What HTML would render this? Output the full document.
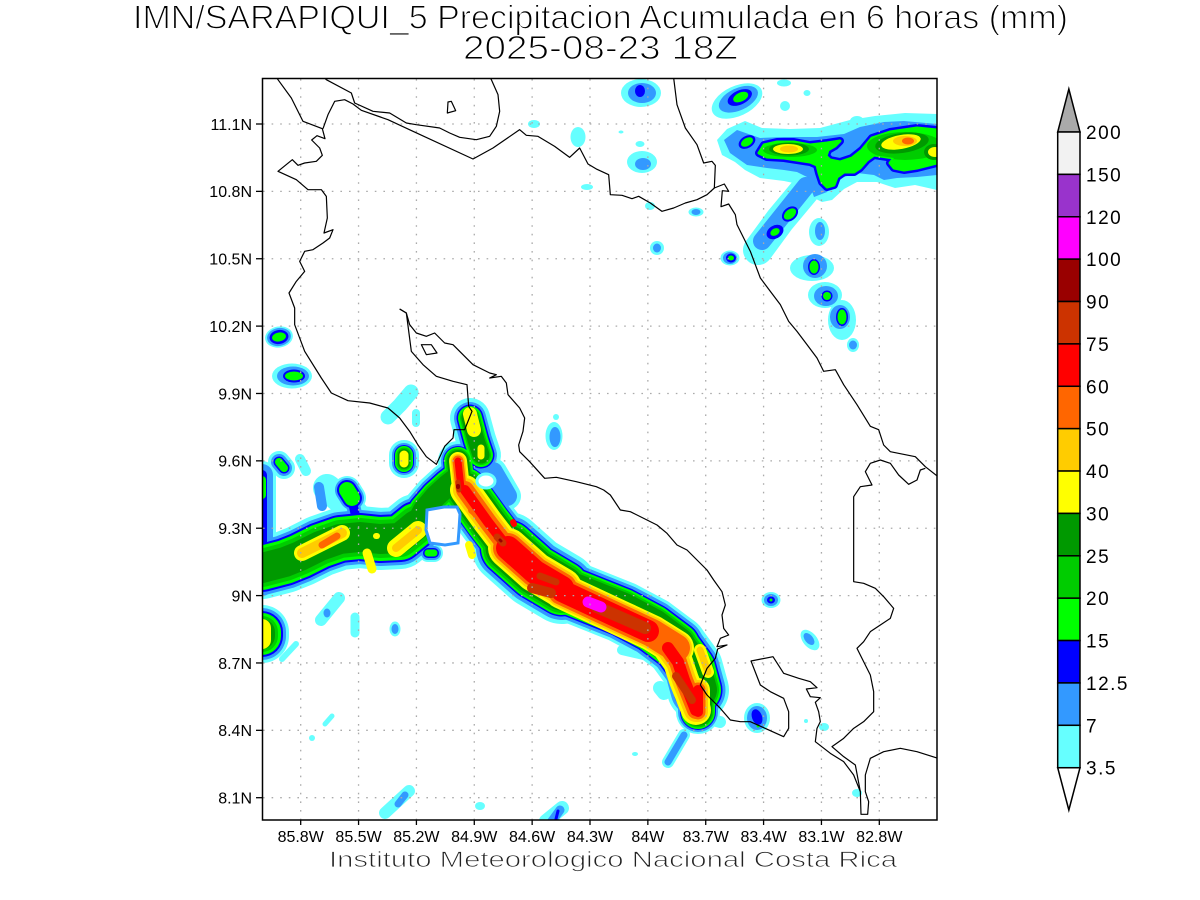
<!DOCTYPE html>
<html><head><meta charset="utf-8"><style>
html,body{margin:0;padding:0;background:#fff;}
svg{display:block;}
</style></head><body>
<svg width="1200" height="900" viewBox="0 0 1200 900" xmlns="http://www.w3.org/2000/svg">
<defs>
<clipPath id="mapclip"><rect x="262.5" y="78.5" width="674.5" height="741.5"/></clipPath>
<path id="sa" d="M465,490 L488,522 L508,548"/>
<path id="sb" d="M508,548 L535,572 L562,588"/>
<path id="sc" d="M562,588 L592,600 L622,612 L652,628 L676,646"/>
<path id="sci" d="M562,591 L592,605 L622,619 L652,633 L676,648"/>
<path id="scr" d="M562,591 L592,605 L622,619 L648,631"/>
<path id="sd" d="M676,646 L692,668 L698,690"/>
<path id="sdi" d="M668,648 L678,662 L684,680 L692,700 L696,710"/>
<path id="se" d="M698,690 L698,712"/>
<path id="pk" d="M458,461 L461,488"/>
<path id="lb1" d="M493,472 L507,496"/>
<path id="wa" d="M262,568 L285,562 L300,556 L320,546 L340,539 L360,537 L380,539 L400,538 L416,525"/>
<path id="wb" d="M416,525 L424,510 L436,496 L448,485 L457,478"/>
<path id="ua" d="M327,488 L345,503 L360,520"/>
<path id="ub" d="M319,487 L322,506"/>
<path id="ug" d="M347,490 L352,498"/>
<path id="ugc" d="M352,500 L356,518"/>
<path id="ls" d="M262,475 L262,585"/>
<path id="lsg" d="M262,556 L262,580"/>
<path id="lsg2" d="M262,480 L262,495"/>
<path id="ll" d="M262,632 L262,636"/>
<path id="lly" d="M262,628 L262,640"/>
<path id="tl" d="M279,462 L284,468"/>
<path id="tl2" d="M300,459 L306,471"/>
<path id="b4" d="M404,455 L404,463"/>
<path id="b5" d="M481,448 L481,456"/>
<path id="b11" d="M470,418 L476,440 L481,455"/>
<path id="b11y" d="M470,414 L474,430"/>
<path id="b6" d="M428,553 L434,553"/>
<path id="tail" d="M684,735 L668,762"/>
<path id="lbA" d="M660,688 L664,693"/>
<path id="lbB" d="M706,718 L720,722"/>
<path id="lbC" d="M622,650 L648,656"/>
<path id="y1" d="M302,553 L342,533"/>
<path id="y1o" d="M322,545 L337,536"/>
<path id="y2" d="M367,553 L372,569"/>
<path id="y3" d="M396,548 L418,530"/>
<path id="y4" d="M376,536 L377,536"/>
<path id="y5" d="M469,545 L472,555"/>
<path id="y6" d="M700,650 L708,672"/>
<path id="y7" d="M472,510 L486,522"/>
<clipPath id="ngc"><path d="M759,153 L764,145 L777,142 L794,142 L810,145 L827,143 L840,141 L835,146 L828,150 L826,156 L830,160 L840,162 L852,158 L862,150 L872,138 L890,132 L917,128 L937,130 L937,163 L917,168 L904,170 L894,168 L890,163 L894,158 L887,157 L874,155 L867,160 L860,168 L854,172 L844,172 L837,177 L834,185 L827,187 L822,182 L819,173 L817,165 L810,162 L797,160 L784,158 L767,157 Z"/></clipPath>
</defs>

<rect width="1200" height="900" fill="#fff"/>

<g clip-path="url(#mapclip)">
<g fill="none" stroke-linecap="round" stroke-linejoin="round">
<g stroke="#66ffff">
<use href="#sa" stroke-width="58"/><use href="#sb" stroke-width="72"/><use href="#sc" stroke-width="62"/><use href="#sd" stroke-width="62"/><use href="#se" stroke-width="44"/><use href="#pk" stroke-width="40"/><use href="#lb1" stroke-width="28"/><use href="#wa" stroke-width="62"/><use href="#wb" stroke-width="44"/><use href="#ua" stroke-width="28"/><use href="#ug" stroke-width="28"/><use href="#ls" stroke-width="28"/><use href="#ll" stroke-width="54"/><use href="#tl" stroke-width="22"/><use href="#tl2" stroke-width="10"/><use href="#b4" stroke-width="30"/><use href="#b5" stroke-width="24"/><use href="#b11" stroke-width="40"/><use href="#b6" stroke-width="18"/><use href="#tail" stroke-width="12"/><use href="#lbA" stroke-width="14"/><use href="#lbB" stroke-width="12"/><use href="#lbC" stroke-width="10"/>
</g>
<g stroke="#3399ff">
<use href="#sa" stroke-width="52"/><use href="#sb" stroke-width="64"/><use href="#sc" stroke-width="56"/><use href="#sd" stroke-width="55"/><use href="#se" stroke-width="40"/><use href="#pk" stroke-width="34"/><use href="#lb1" stroke-width="20"/><use href="#wa" stroke-width="54"/><use href="#wb" stroke-width="38"/><use href="#ub" stroke-width="10"/><use href="#ug" stroke-width="24"/><use href="#ugc" stroke-width="14"/><use href="#ls" stroke-width="22"/><use href="#ll" stroke-width="48"/><use href="#tl" stroke-width="16"/><use href="#b4" stroke-width="24"/><use href="#b5" stroke-width="20"/><use href="#b11" stroke-width="32"/><use href="#b6" stroke-width="14"/><use href="#tail" stroke-width="7"/>
</g>
<g stroke="#0000ff">
<use href="#sa" stroke-width="46"/><use href="#sb" stroke-width="57"/><use href="#sc" stroke-width="50"/><use href="#sd" stroke-width="49"/><use href="#se" stroke-width="36"/><use href="#pk" stroke-width="30"/><use href="#wa" stroke-width="48"/><use href="#wb" stroke-width="33"/><use href="#ug" stroke-width="20"/><use href="#ugc" stroke-width="9"/><use href="#ls" stroke-width="10"/><use href="#ll" stroke-width="42"/><use href="#tl" stroke-width="11"/><use href="#b4" stroke-width="20"/><use href="#b5" stroke-width="17"/><use href="#b11" stroke-width="27"/><use href="#b6" stroke-width="10"/>
</g>
<g stroke="#00ff00">
<use href="#sa" stroke-width="44"/><use href="#sb" stroke-width="54"/><use href="#sc" stroke-width="47"/><use href="#sd" stroke-width="46"/><use href="#se" stroke-width="34"/><use href="#pk" stroke-width="28"/><use href="#wa" stroke-width="44"/><use href="#wb" stroke-width="30"/><use href="#ug" stroke-width="16"/><use href="#lsg" stroke-width="14"/><use href="#lsg2" stroke-width="8"/><use href="#ll" stroke-width="38"/><use href="#tl" stroke-width="8"/><use href="#b4" stroke-width="18"/><use href="#b5" stroke-width="15"/><use href="#b11" stroke-width="24"/><use href="#b6" stroke-width="7"/>
</g>
<g stroke="#00cc00">
<use href="#sa" stroke-width="40"/><use href="#sb" stroke-width="50"/><use href="#sc" stroke-width="43"/><use href="#sd" stroke-width="42"/><use href="#se" stroke-width="31"/><use href="#pk" stroke-width="25"/><use href="#wa" stroke-width="38"/><use href="#wb" stroke-width="26"/><use href="#ll" stroke-width="32"/><use href="#b4" stroke-width="15"/><use href="#b5" stroke-width="12"/><use href="#b11" stroke-width="20"/>
</g>
<g stroke="#009900">
<use href="#sa" stroke-width="35"/><use href="#sb" stroke-width="45"/><use href="#sc" stroke-width="39"/><use href="#sd" stroke-width="38"/><use href="#se" stroke-width="28"/><use href="#pk" stroke-width="22"/><use href="#wa" stroke-width="30"/><use href="#wb" stroke-width="22"/><use href="#ll" stroke-width="26"/><use href="#b4" stroke-width="12"/><use href="#b5" stroke-width="10"/><use href="#b11" stroke-width="17"/>
</g>
<g stroke="#ffff00">
<use href="#sa" stroke-width="30"/><use href="#sb" stroke-width="40"/><use href="#sci" stroke-width="36"/><use href="#sdi" stroke-width="30"/><use href="#se" stroke-width="24"/><use href="#pk" stroke-width="18"/><use href="#y1" stroke-width="16"/><use href="#y2" stroke-width="9"/><use href="#y3" stroke-width="18"/><use href="#y4" stroke-width="6"/><use href="#y5" stroke-width="8"/><use href="#y6" stroke-width="12"/><use href="#lly" stroke-width="18"/><use href="#b4" stroke-width="9"/><use href="#b5" stroke-width="7"/><use href="#b11y" stroke-width="14"/>
</g>
<g stroke="#ffcc00">
<use href="#sa" stroke-width="24"/><use href="#sb" stroke-width="35"/><use href="#sci" stroke-width="32"/><use href="#sdi" stroke-width="24"/><use href="#se" stroke-width="20"/><use href="#pk" stroke-width="14"/><use href="#y1" stroke-width="10"/><use href="#y3" stroke-width="8"/><use href="#y6" stroke-width="7"/>
</g>
<g stroke="#ff6600">
<use href="#sa" stroke-width="18"/><use href="#sb" stroke-width="30"/><use href="#sci" stroke-width="28"/><use href="#sdi" stroke-width="18"/><use href="#se" stroke-width="15"/><use href="#pk" stroke-width="11"/><use href="#y1o" stroke-width="7"/><use href="#y7" stroke-width="8"/>
</g>
<g stroke="#ff0000">
<use href="#sa" stroke-width="10"/><use href="#sb" stroke-width="24"/><use href="#scr" stroke-width="22"/><use href="#sdi" stroke-width="12"/><use href="#se" stroke-width="10"/><use href="#pk" stroke-width="7"/>
<path d="M482,512 L490,521"  stroke-width="5"/><path d="M513,522 L514,524" stroke-width="6"/>
</g>
<g stroke="#cc3300">
<path d="M497,537 L503,543" stroke-width="7"/>
<path d="M532,588 L551,593" stroke-width="10"/>
<path d="M540,576 L556,582" stroke-width="7"/>
<path d="M597,607 L645,628" stroke-width="12"/>
<path d="M676,676 L692,700" stroke-width="8"/>
<path d="M458,482 L459,490" stroke-width="5"/>
</g>
<g stroke="#990000">
<path d="M458,486 L458,487" stroke-width="4"/>
<path d="M500,540 L501,541" stroke-width="3"/>
</g>
<g stroke="#ff00ff">
<path d="M588,602 L601,607" stroke-width="11"/>
</g>
</g>

<path d="M427,510 L444,507 L457,507 L460,514 L459,530 L458,543 L445,545 L430,543 L426,530 Z" fill="#fff" stroke="#3399ff" stroke-width="3"/>
<ellipse cx="486" cy="481" rx="9" ry="7" fill="#fff" stroke="#66ffff" stroke-width="3"/>

<g>
<ellipse cx="279" cy="337" rx="14" ry="10.5" fill="#66ffff" transform="rotate(-10 279 337)"/>
<ellipse cx="279" cy="337" rx="12" ry="9" fill="#3399ff" transform="rotate(-10 279 337)"/>
<ellipse cx="279" cy="337" rx="9.5" ry="7" fill="#0000ff" transform="rotate(-10 279 337)"/>
<ellipse cx="279" cy="337" rx="7" ry="4.5" fill="#00ff00" transform="rotate(-10 279 337)"/>

<ellipse cx="292" cy="376" rx="20" ry="12.5" fill="#66ffff"/>
<ellipse cx="293" cy="376" rx="16" ry="9.5" fill="#3399ff"/>
<ellipse cx="294" cy="376" rx="11" ry="6.5" fill="#0000ff"/>
<ellipse cx="294" cy="376" rx="9" ry="4.5" fill="#00ff00"/>

<path d="M388,417 L400,405 L411,392" stroke="#66ffff" stroke-width="15" fill="none" stroke-linecap="round" stroke-linejoin="round"/>
<path d="M416,413 L416,423" stroke="#66ffff" stroke-width="8" fill="none" stroke-linecap="round"/>
<ellipse cx="554" cy="436" rx="8.5" ry="14" fill="#66ffff"/>
<ellipse cx="555" cy="437" rx="5.5" ry="10" fill="#3399ff"/>
<circle cx="556" cy="417" r="3" fill="#66ffff"/>
<ellipse cx="534" cy="124" rx="6" ry="4" fill="#66ffff"/>
<ellipse cx="578" cy="137" rx="7.5" ry="10" fill="#66ffff"/>
<ellipse cx="587" cy="187" rx="6" ry="3" fill="#66ffff"/>

<ellipse cx="641" cy="93" rx="20" ry="14" fill="#66ffff"/>
<ellipse cx="642" cy="93" rx="14" ry="10" fill="#3399ff"/>
<ellipse cx="640" cy="91" rx="5" ry="6" fill="#0000ff"/>

<g transform="rotate(-25 737 101)">
<ellipse cx="737" cy="101" rx="27" ry="15" fill="#66ffff"/>
<ellipse cx="739" cy="100" rx="21" ry="11" fill="#3399ff"/>
<ellipse cx="741" cy="99" rx="13" ry="7" fill="#0000ff"/>
<ellipse cx="742" cy="99" rx="8" ry="4.5" fill="#00ff00"/>
</g>
<ellipse cx="784" cy="83" rx="7" ry="3.5" fill="#66ffff"/>
<ellipse cx="807" cy="93" rx="3.5" ry="3" fill="#66ffff"/>
<circle cx="785" cy="106" r="5" fill="#66ffff"/>
<ellipse cx="857" cy="121" rx="7" ry="5" fill="#66ffff"/>
<ellipse cx="621" cy="132" rx="2.5" ry="1.5" fill="#66ffff"/>
<ellipse cx="640" cy="144" rx="4.5" ry="3" fill="#66ffff"/>
<ellipse cx="642" cy="162" rx="15" ry="11" fill="#66ffff"/>
<ellipse cx="643" cy="164" rx="8" ry="6" fill="#3399ff"/>
<ellipse cx="650" cy="206" rx="5" ry="4" fill="#66ffff"/>
<ellipse cx="696" cy="212" rx="7.5" ry="4.5" fill="#66ffff"/>
<ellipse cx="696" cy="212" rx="4.5" ry="3" fill="#3399ff"/>
<circle cx="657" cy="248" r="7" fill="#66ffff"/>
<ellipse cx="657" cy="248" rx="4" ry="4.5" fill="#3399ff"/>
<ellipse cx="730" cy="258" rx="9.5" ry="7.5" fill="#66ffff"/>
<ellipse cx="730" cy="258" rx="7" ry="6" fill="#3399ff"/>
<ellipse cx="731" cy="258" rx="5" ry="4.5" fill="#0000ff"/>
<ellipse cx="731" cy="258" rx="3" ry="2.5" fill="#00ff00"/>

<ellipse cx="812" cy="268" rx="22" ry="13" fill="#66ffff"/>
<ellipse cx="825" cy="295" rx="17" ry="13" fill="#66ffff"/>
<ellipse cx="842" cy="320" rx="14" ry="20" fill="#66ffff"/>
<ellipse cx="819" cy="232" rx="10" ry="14" fill="#66ffff"/>
<ellipse cx="853" cy="345" rx="6" ry="7" fill="#66ffff"/>
<ellipse cx="815" cy="266" rx="12" ry="12" fill="#3399ff"/>
<ellipse cx="826" cy="296" rx="12" ry="10" fill="#3399ff"/>
<ellipse cx="840" cy="317" rx="10" ry="12" fill="#3399ff"/>
<ellipse cx="820" cy="231" rx="5" ry="9" fill="#3399ff"/>
<ellipse cx="853" cy="345" rx="4" ry="4.5" fill="#3399ff"/>
<ellipse cx="814" cy="267" rx="6" ry="8" fill="#0000ff"/>
<ellipse cx="827" cy="296" rx="5.5" ry="5.5" fill="#0000ff"/>
<ellipse cx="842" cy="317" rx="6" ry="9" fill="#0000ff"/>
<ellipse cx="814" cy="267" rx="4.5" ry="6.5" fill="#00ff00"/>
<ellipse cx="827" cy="296" rx="4" ry="4" fill="#00ff00"/>
<ellipse cx="842" cy="317" rx="4.5" ry="7.5" fill="#00ff00"/>

<ellipse cx="771" cy="600" rx="9.5" ry="8" fill="#66ffff"/>
<ellipse cx="771" cy="600" rx="7" ry="6" fill="#3399ff"/>
<ellipse cx="771" cy="600" rx="4" ry="3.5" fill="#0000ff"/>
<circle cx="771" cy="600" r="1.5" fill="#00ff00"/>
<ellipse cx="810" cy="640" rx="12" ry="7" fill="#66ffff" transform="rotate(50 810 640)"/>
<ellipse cx="809" cy="639" rx="7" ry="4" fill="#3399ff" transform="rotate(50 809 639)"/>
<ellipse cx="757" cy="718" rx="13" ry="15" fill="#66ffff"/>
<ellipse cx="757" cy="718" rx="10" ry="12" fill="#3399ff"/>
<ellipse cx="757" cy="717" rx="5" ry="8" fill="#0000ff" transform="rotate(-20 757 717)"/>
<circle cx="758" cy="726" r="1.5" fill="#00ff00"/>
<circle cx="806" cy="721" r="2" fill="#66ffff"/>
<ellipse cx="824" cy="727" rx="5" ry="4" fill="#66ffff"/>
<ellipse cx="857" cy="793" rx="5" ry="4" fill="#66ffff"/>
<ellipse cx="635" cy="754" rx="3" ry="2" fill="#66ffff"/>

<g fill="none" stroke-linecap="round">
<path d="M321,620 L339,598" stroke="#66ffff" stroke-width="12"/>
<path d="M355,617 L355,633" stroke="#66ffff" stroke-width="9"/>
<path d="M282,659 L296,644" stroke="#66ffff" stroke-width="6"/>
<path d="M325,724 L332,716" stroke="#66ffff" stroke-width="5"/>
<path d="M385,813 L409,791" stroke="#66ffff" stroke-width="12"/>
<path d="M398,804 L405,795" stroke="#3399ff" stroke-width="7"/>
<path d="M546,821 L562,808" stroke="#66ffff" stroke-width="14"/>
<path d="M552,821 L560,810" stroke="#3399ff" stroke-width="9"/>
<path d="M556,819 L558,811" stroke="#0000ff" stroke-width="3"/>
</g>
<ellipse cx="327" cy="613" rx="3.5" ry="4.5" fill="#3399ff"/>
<ellipse cx="395" cy="629" rx="5.5" ry="7.5" fill="#66ffff"/>
<ellipse cx="395" cy="629" rx="3.5" ry="5" fill="#3399ff"/>
<circle cx="312" cy="738" r="3" fill="#66ffff"/>
<ellipse cx="480" cy="806" rx="5" ry="4" fill="#66ffff"/>
</g>

<path d="M717,140 L727,129 L745,121 L762,128 L790,129 L820,128 L850,120 L875,116 L905,113 L937,114 L937,190 L915,185 L895,188 L877,182 L857,182 L844,189 L832,200 L822,202 L812,197 L803,185 L784,181 L760,178 L745,170 L735,162 L722,155 Z" fill="#66ffff"/>
<path d="M805,190 L780,220 L758,250" stroke="#66ffff" stroke-width="30" fill="none" stroke-linecap="round" stroke-linejoin="round"/>
<path d="M724,140 L737,130 L760,138 L784,137 L817,137 L844,134 L860,127 L884,122 L904,121 L937,124 L937,175 L917,177 L897,178 L884,180 L874,175 L857,173 L844,177 L834,182 L827,192 L814,197 L807,177 L797,172 L784,170 L767,168 L747,165 L730,153 Z" fill="#3399ff"/>
<path d="M806,186 L782,216 L762,241" stroke="#3399ff" stroke-width="18" fill="none" stroke-linecap="round" stroke-linejoin="round"/>
<ellipse cx="790" cy="214" rx="9" ry="6.5" fill="#0000ff" transform="rotate(-40 790 214)"/>
<ellipse cx="790" cy="214" rx="7" ry="4.5" fill="#00ff00" transform="rotate(-40 790 214)"/>
<ellipse cx="775" cy="232" rx="9" ry="6.5" fill="#0000ff" transform="rotate(-30 775 232)"/>
<ellipse cx="775" cy="232" rx="5" ry="3.5" fill="#00ff00" transform="rotate(-30 775 232)"/>
<ellipse cx="747" cy="142" rx="9" ry="6" fill="#0000ff" transform="rotate(-30 747 142)"/>
<ellipse cx="747" cy="142" rx="6.5" ry="4" fill="#00ff00" transform="rotate(-30 747 142)"/>
<g>
<path d="M759,153 L764,145 L777,142 L794,142 L810,145 L827,143 L840,141 L835,146 L828,150 L826,156 L830,160 L840,162 L852,158 L862,150 L872,138 L890,132 L917,128 L937,130 L937,163 L917,168 L904,170 L894,168 L890,163 L894,158 L887,157 L874,155 L867,160 L860,168 L854,172 L844,172 L837,177 L834,185 L827,187 L822,182 L819,173 L817,165 L810,162 L797,160 L784,158 L767,157 Z" fill="none" stroke="#0000ff" stroke-width="8" stroke-linejoin="round"/>
<path d="M759,153 L764,145 L777,142 L794,142 L810,145 L827,143 L840,141 L835,146 L828,150 L826,156 L830,160 L840,162 L852,158 L862,150 L872,138 L890,132 L917,128 L937,130 L937,163 L917,168 L904,170 L894,168 L890,163 L894,158 L887,157 L874,155 L867,160 L860,168 L854,172 L844,172 L837,177 L834,185 L827,187 L822,182 L819,173 L817,165 L810,162 L797,160 L784,158 L767,157 Z" fill="#00ff00" stroke="#00ff00" stroke-width="3" stroke-linejoin="round"/>
<g clip-path="url(#ngc)">
<ellipse cx="790" cy="150" rx="27" ry="7" fill="#00cc00"/>
<ellipse cx="905" cy="146" rx="38" ry="14" fill="#00cc00"/>
<ellipse cx="789" cy="149" rx="20" ry="6.5" fill="#009900"/>
<ellipse cx="902" cy="143" rx="27" ry="10" fill="#009900" transform="rotate(-8 902 143)"/>
<ellipse cx="934" cy="152" rx="10" ry="8" fill="#009900"/>
<ellipse cx="788" cy="149" rx="15" ry="5" fill="#ffff00"/>
<ellipse cx="901" cy="142" rx="20" ry="7" fill="#ffff00" transform="rotate(-10 901 142)"/>
<ellipse cx="935" cy="152" rx="7" ry="5" fill="#ffff00"/>
<ellipse cx="789" cy="149" rx="9" ry="3.5" fill="#ffcc00"/>
<ellipse cx="905" cy="141" rx="12" ry="5" fill="#ffcc00"/>
<ellipse cx="908" cy="141" rx="6" ry="3.5" fill="#ff6600"/>
</g>
</g>
</g>

<g stroke="#aaaaaa" stroke-width="1.3" stroke-dasharray="1.6 7">
<line x1="300.7" y1="79" x2="300.7" y2="820"/>
<line x1="358.56" y1="79" x2="358.56" y2="820"/>
<line x1="416.42" y1="79" x2="416.42" y2="820"/>
<line x1="474.28" y1="79" x2="474.28" y2="820"/>
<line x1="532.14" y1="79" x2="532.14" y2="820"/>
<line x1="590" y1="79" x2="590" y2="820"/>
<line x1="647.86" y1="79" x2="647.86" y2="820"/>
<line x1="705.72" y1="79" x2="705.72" y2="820"/>
<line x1="763.58" y1="79" x2="763.58" y2="820"/>
<line x1="821.44" y1="79" x2="821.44" y2="820"/>
<line x1="879.3" y1="79" x2="879.3" y2="820"/>
<line x1="263" y1="797.7" x2="937" y2="797.7"/>
<line x1="263" y1="730.33" x2="937" y2="730.33"/>
<line x1="263" y1="662.96" x2="937" y2="662.96"/>
<line x1="263" y1="595.59" x2="937" y2="595.59"/>
<line x1="263" y1="528.22" x2="937" y2="528.22"/>
<line x1="263" y1="460.85" x2="937" y2="460.85"/>
<line x1="263" y1="393.48" x2="937" y2="393.48"/>
<line x1="263" y1="326.11" x2="937" y2="326.11"/>
<line x1="263" y1="258.74" x2="937" y2="258.74"/>
<line x1="263" y1="191.37" x2="937" y2="191.37"/>
<line x1="263" y1="124" x2="937" y2="124"/>
</g>

<g clip-path="url(#mapclip)">
<g transform="translate(263,78) scale(0.333333)" fill="none" stroke="#000" stroke-width="3.6" stroke-linejoin="round">
<path d="M42,0 L45,5 L85,60 L120,130 L178,152 L186,182 L162,173 L146,186 L170,210 L178,232 L160,250 L125,255 L105,262 L88,245 L45,280 L100,305 L135,335 L175,335 L190,355 L193,420 L183,465 L210,455 L200,480 L180,495 L150,515 L125,520 L110,550 L125,580 L100,610 L78,645 L95,690 L95,740 L125,820 L175,900 L205,945 L255,968 L320,975 L375,990 L410,1020 L440,1060 L465,1101 L490,1136 L520,1159 L545,1105 L570,1080 L573,1055 L605,1055 L627,1000 L617,985 L612,920 L570,910 L520,895 L480,860 L445,820 L430,705 L410,693"/>
<path d="M180,152 L195,110 L215,70 L245,65 L270,78 L295,97 L375,125 L450,160 L630,243 L690,210 L770,155 L790,172 L825,175 L875,205 L920,238 L950,210 L975,258 L1002,274 L1037,290 L1042,350 L1077,352 L1107,362 L1127,355 L1162,375 L1197,400 L1232,390 L1267,375 L1302,365 L1332,350 L1354,330"/>
<path d="M185,0 L190,5 L265,45 L275,75 L330,100 L380,105 L430,135 L460,140 L530,150 L560,165 L590,178 L640,185 L680,175 L700,145 L710,100 L705,50 L685,5 L682,0"/>
<path d="M555,72 L565,70 L578,98 L553,105 Z"/>
<path d="M475,800 L505,800 L522,825 L490,830 Z"/>
<path d="M1232,0 L1242,80 L1267,150 L1302,200 L1322,255 L1347,250 L1357,262 L1354,330 L1384,318 L1397,340 L1378,338 L1374,386 L1397,378 L1417,410 L1422,440 L1442,480 L1462,520 L1477,560 L1492,600 L1522,640 L1552,680 L1577,730 L1602,760 L1632,800 L1662,840 L1682,880 L1717,875 L1742,920 L1782,980 L1822,1045 L1847,1055 L1862,1101 L1882,1121 L1957,1136 L1987,1166 L2025,1196"/>
<path d="M410,693 L430,705 L440,740 L460,765 L490,775 L515,765 L545,795 L570,800 L600,830 L630,860 L680,885 L700,890 L680,900 L715,895 L730,915 L735,950 L770,990 L785,1020 L780,1060 L767,1101 L770,1121 L800,1151 L845,1201 L880,1198 L940,1211 L1000,1226 L1022,1236 L1042,1251 L1072,1296 L1102,1301 L1182,1341 L1212,1366 L1242,1401 L1272,1416 L1302,1446 L1332,1476 L1352,1506 L1377,1541 L1387,1581 L1377,1611 L1382,1651 L1397,1671 L1372,1681 L1362,1706 L1392,1701 L1364,1713 L1357,1741 L1332,1771 L1312,1821 L1332,1851 L1372,1891 L1402,1926 L1432,1931 L1462,1931 L1562,1976 L1577,1951 L1577,1901 L1562,1861 L1522,1841 L1492,1821 L1464,1749 L1530,1736 L1562,1786 L1607,1801 L1642,1811 L1662,1829 L1630,1833 L1642,1856 L1672,1859 L1657,1873 L1667,1901 L1672,1931 L1662,1951 L1657,1991 L1702,2026 L1742,2051 L1772,2091 L1792,2141 L1794,2209 L1814,2209 L1817,2171 L1807,2141 L1807,2091 L1822,2041 L1862,2021 L1912,2011 L1962,2021 L2025,2041"/>
<path d="M1987,1171 L1972,1176 L1962,1206 L1937,1219 L1907,1191 L1882,1156 L1852,1146 L1822,1156 L1807,1181 L1827,1221 L1792,1226 L1772,1256 L1772,1511 L1802,1516 L1837,1531 L1862,1556 L1892,1591 L1882,1621 L1852,1641 L1822,1661 L1802,1691 L1782,1711 L1797,1741 L1822,1791 L1832,1841 L1832,1901 L1802,1931 L1772,1951 L1742,1981 L1707,2006 L1742,2036 L1777,2061 L1792,2141"/>
</g>
</g>

<rect x="262.5" y="78.5" width="674.5" height="741.5" fill="none" stroke="#000" stroke-width="1.5"/>

<g stroke="#000" stroke-width="1.3">
<line x1="256" y1="797.7" x2="262.5" y2="797.7"/><line x1="256" y1="730.33" x2="262.5" y2="730.33"/><line x1="256" y1="662.96" x2="262.5" y2="662.96"/><line x1="256" y1="595.59" x2="262.5" y2="595.59"/><line x1="256" y1="528.22" x2="262.5" y2="528.22"/><line x1="256" y1="460.85" x2="262.5" y2="460.85"/><line x1="256" y1="393.48" x2="262.5" y2="393.48"/><line x1="256" y1="326.11" x2="262.5" y2="326.11"/><line x1="256" y1="258.74" x2="262.5" y2="258.74"/><line x1="256" y1="191.37" x2="262.5" y2="191.37"/><line x1="256" y1="124" x2="262.5" y2="124"/>
<line x1="300.7" y1="820" x2="300.7" y2="825"/><line x1="358.56" y1="820" x2="358.56" y2="825"/><line x1="416.42" y1="820" x2="416.42" y2="825"/><line x1="474.28" y1="820" x2="474.28" y2="825"/><line x1="532.14" y1="820" x2="532.14" y2="825"/><line x1="590" y1="820" x2="590" y2="825"/><line x1="647.86" y1="820" x2="647.86" y2="825"/><line x1="705.72" y1="820" x2="705.72" y2="825"/><line x1="763.58" y1="820" x2="763.58" y2="825"/><line x1="821.44" y1="820" x2="821.44" y2="825"/><line x1="879.3" y1="820" x2="879.3" y2="825"/>
</g>

<g font-family="'Liberation Sans', sans-serif" font-size="16" fill="#000">
<g text-anchor="end">
<text x="252" y="803.5">8.1N</text>
<text x="252" y="736.1">8.4N</text>
<text x="252" y="668.8">8.7N</text>
<text x="252" y="601.4">9N</text>
<text x="252" y="534">9.3N</text>
<text x="252" y="466.7">9.6N</text>
<text x="252" y="399.3">9.9N</text>
<text x="252" y="331.9">10.2N</text>
<text x="252" y="264.5">10.5N</text>
<text x="252" y="197.2">10.8N</text>
<text x="252" y="129.8">11.1N</text>
</g>
<g text-anchor="middle">
<text x="300.7" y="842">85.8W</text>
<text x="358.56" y="842">85.5W</text>
<text x="416.42" y="842">85.2W</text>
<text x="474.28" y="842">84.9W</text>
<text x="532.14" y="842">84.6W</text>
<text x="590" y="842">84.3W</text>
<text x="647.86" y="842">84W</text>
<text x="705.72" y="842">83.7W</text>
<text x="763.58" y="842">83.4W</text>
<text x="821.44" y="842">83.1W</text>
<text x="879.3" y="842">82.8W</text>
</g>
</g>

<g font-family="'Liberation Sans', sans-serif" fill="#000" stroke="#fff">
<text x="133" y="28.5" font-size="33" stroke-width="1.1" textLength="935" lengthAdjust="spacingAndGlyphs">IMN/SARAPIQUI_5 Precipitacion Acumulada en 6 horas (mm)</text>
<text x="463" y="59" font-size="33" stroke-width="1.1" textLength="275" lengthAdjust="spacingAndGlyphs">2025-08-23 18Z</text>
<text x="329" y="867" font-size="22" stroke-width="0.8" fill="#222" textLength="568" lengthAdjust="spacingAndGlyphs">Instituto Meteorologico Nacional Costa Rica</text>
</g>

<g stroke="#000" stroke-width="1.5">
<polygon points="1057.7,132 1080,132 1068.85,89" fill="#aaaaaa"/>
<rect x="1057.7" y="132" width="22.3" height="42.38" fill="#f2f2f2"/>
<rect x="1057.7" y="174.38" width="22.3" height="42.38" fill="#9933cc"/>
<rect x="1057.7" y="216.76" width="22.3" height="42.38" fill="#ff00ff"/>
<rect x="1057.7" y="259.14" width="22.3" height="42.38" fill="#990000"/>
<rect x="1057.7" y="301.52" width="22.3" height="42.38" fill="#cc3300"/>
<rect x="1057.7" y="343.9" width="22.3" height="42.38" fill="#ff0000"/>
<rect x="1057.7" y="386.28" width="22.3" height="42.38" fill="#ff6600"/>
<rect x="1057.7" y="428.66" width="22.3" height="42.38" fill="#ffcc00"/>
<rect x="1057.7" y="471.04" width="22.3" height="42.38" fill="#ffff00"/>
<rect x="1057.7" y="513.42" width="22.3" height="42.38" fill="#009900"/>
<rect x="1057.7" y="555.8" width="22.3" height="42.38" fill="#00cc00"/>
<rect x="1057.7" y="598.18" width="22.3" height="42.38" fill="#00ff00"/>
<rect x="1057.7" y="640.56" width="22.3" height="42.38" fill="#0000ff"/>
<rect x="1057.7" y="682.94" width="22.3" height="42.38" fill="#3399ff"/>
<rect x="1057.7" y="725.32" width="22.3" height="42.38" fill="#66ffff"/>
<polygon points="1057.7,767.7 1080,767.7 1068.85,810" fill="#ffffff"/>
</g>
<g font-family="'Liberation Sans', sans-serif" font-size="19" letter-spacing="1.5" fill="#000">
<text x="1086" y="139">200</text>
<text x="1086" y="181.4">150</text>
<text x="1086" y="223.8">120</text>
<text x="1086" y="266.1">100</text>
<text x="1086" y="308.5">90</text>
<text x="1086" y="350.9">75</text>
<text x="1086" y="393.3">60</text>
<text x="1086" y="435.7">50</text>
<text x="1086" y="478">40</text>
<text x="1086" y="520.4">30</text>
<text x="1086" y="562.8">25</text>
<text x="1086" y="605.2">20</text>
<text x="1086" y="647.6">15</text>
<text x="1086" y="689.9">12.5</text>
<text x="1086" y="732.3">7</text>
<text x="1086" y="774.7">3.5</text>
</g>
</svg>
</body></html>
